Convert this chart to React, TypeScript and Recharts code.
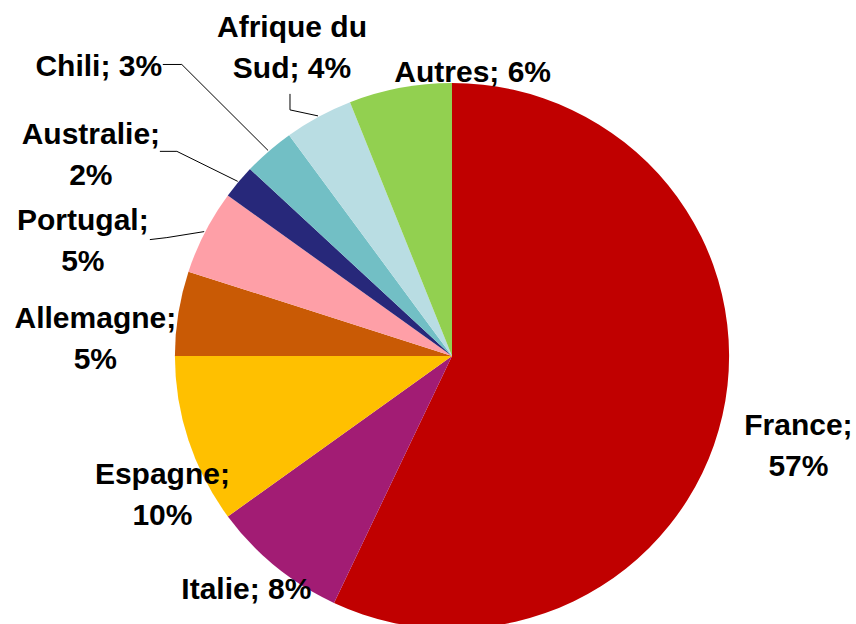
import React from 'react';
import { PieChart, Pie, Cell, Sector } from 'recharts';

const countries = ['France', 'Italie', 'Espagne', 'Allemagne', 'Portugal', 'Australie', 'Chili', 'Afrique du Sud', 'Autres'];
const shares = [57, 8, 10, 5, 5, 2, 3, 4, 6];
const colors = ['#C00000', '#A21C74', '#FFC000', '#C95A05', '#FE9FA7', '#27287A', '#72BFC5', '#B9DDE3', '#92D050'];

// label layout: word index at which the label wraps (0 = single line)
const wrapAt = [1, 0, 1, 1, 1, 1, 0, 2, 0];
// label centre offset from the slice's outer mid point
const labelDx = [79, -31, -29, -86, -125, -150, -172, -28, 72];
const labelDy = [29, 21, 53, 24, 8, -28, -85, -69, -16];
// leader lines: [startDx, startDy, elbowDx, elbowDy] relative to label centre, or null
const leaders: (number[] | null)[] = [null, null, null, null, [67, 0, 84, -2], [69, -2, 86, -2], [64, -1, 83, -1], [-2, 47, -2, 63], null];

const data = countries.map((name, i) => ({ name, value: shares[i] }));

const RAD = Math.PI / 180;
const FONT = '"Liberation Sans", Arial, sans-serif';
const FS = 30;
const LH = 41;
const SX = 1.015; // the original pie is slightly wider than tall

const renderShape = (props: any) => {
  const { cx, cy } = props;
  return (
    <g transform={`translate(${cx},${cy}) scale(${SX},1) translate(${-cx},${-cy})`}>
      <Sector {...props} />
    </g>
  );
};

const renderLabel = (props: any) => {
  const { cx, cy, midAngle, outerRadius, index, name, value } = props;
  const mx = cx + (outerRadius + 1) * Math.cos(-midAngle * RAD);
  const my = cy + (outerRadius + 1) * Math.sin(-midAngle * RAD);
  const lx = mx + labelDx[index];
  const ly = my + labelDy[index];
  const words = `${name}; ${value}%`.split(' ');
  const k = wrapAt[index];
  const lines = k === 0 ? [words.join(' ')] : [words.slice(0, k).join(' '), words.slice(k).join(' ')];
  const top = ly - ((lines.length - 1) * LH) / 2;
  const ld = leaders[index];
  const ex = cx + (outerRadius + 1) * SX * Math.cos(-midAngle * RAD);
  const ey = cy + (outerRadius + 1) * Math.sin(-midAngle * RAD);
  return (
    <g key={`lab-${index}`}>
      {ld && (
        <polyline
          points={`${lx + ld[0]},${ly + ld[1]} ${lx + ld[2]},${ly + ld[3]} ${ex},${ey}`}
          fill="none"
          stroke="#000"
          strokeWidth={1}
        />
      )}
      <text x={lx} y={top} textAnchor="middle" fontFamily={FONT} fontWeight="bold" fontSize={FS} fill="#000">
        {lines.map((t, j) => (
          <tspan key={j} x={lx} y={top + j * LH + 11}>
            {t}
          </tspan>
        ))}
      </text>
    </g>
  );
};

export default function App() {
  return (
    <div style={{ position: 'absolute', left: 0, top: 0, width: 856, height: 624, background: '#fff' }}>
      <PieChart width={856} height={624} margin={{ top: 0, right: 0, bottom: 0, left: 0 }}>
        <Pie
          data={data}
          dataKey="value"
          nameKey="name"
          cx={452}
          cy={356}
          outerRadius={273}
          startAngle={90}
          endAngle={-270}
          stroke="none"
          shape={renderShape}
          label={renderLabel}
          labelLine={false}
          isAnimationActive={false}
        >
          {data.map((d, i) => (
            <Cell key={d.name} fill={colors[i]} />
          ))}
        </Pie>
      </PieChart>
    </div>
  );
}
